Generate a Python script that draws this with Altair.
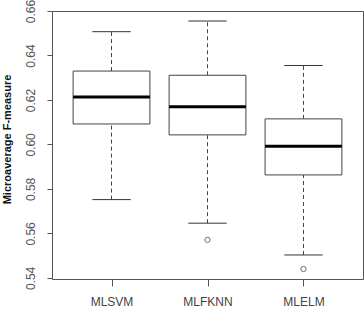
import altair as alt
import pandas as pd

categories = ["MLSVM", "MLFKNN", "MLELM"]
lower_whisker = [0.5752, 0.5646, 0.5503]
q1 = [0.6092, 0.6043, 0.5863]
median = [0.6213, 0.6169, 0.5992]
q3 = [0.6330, 0.6311, 0.6115]
upper_whisker = [0.6507, 0.6555, 0.6355]
outlier_cat = ["MLFKNN", "MLELM"]
outlier_val = [0.5571, 0.5440]

df = pd.DataFrame({
    "cat": categories,
    "pos": [i + 1 for i in range(len(categories))],
    "lo": lower_whisker, "q1": q1, "med": median, "q3": q3, "hi": upper_whisker,
})
dfo = pd.DataFrame({
    "cat": outlier_cat,
    "pos": [categories.index(c) + 1 for c in outlier_cat],
    "v": outlier_val,
})

label_expr = "datum.value == 1 ? 'MLSVM' : datum.value == 2 ? 'MLFKNN' : datum.value == 3 ? 'MLELM' : ''"

xs = alt.Scale(domain=[0.38, 3.62], nice=False, zero=False)
ys = alt.Scale(domain=[0.5395, 0.66], nice=False, zero=False)

xaxis = alt.Axis(values=[1, 2, 3], labelExpr=label_expr, title=None, grid=False,
                 domain=False, tickSize=7, tickColor="#555", labelFont="Liberation Sans",
                 labelFontSize=12, labelColor="#444", labelPadding=10)
yaxis = alt.Axis(values=[0.54, 0.56, 0.58, 0.60, 0.62, 0.64, 0.66], format=".2f",
                 title="Microaverage F-measure", grid=False, domain=False, tickSize=5,
                 tickColor="#555", labelAngle=270, labelAlign="center", labelBaseline="bottom",
                 labelFont="Liberation Sans", labelFontSize=12, labelColor="#555", labelPadding=10,
                 titleFont="Liberation Sans", titleFontSize=11, titleFontWeight="bold",
                 titleColor="#111", titleX=-45, titleY=128, titleAngle=270, titleBaseline="middle")

base = alt.Chart(df).transform_calculate(
    xl="datum.pos - 0.4", xr="datum.pos + 0.4",
    cl="datum.pos - 0.2", cr="datum.pos + 0.2")

whisk_up = base.mark_rule(color="#444", strokeDash=[4, 3], strokeWidth=1).encode(
    x=alt.X("pos:Q", scale=xs, axis=xaxis), y=alt.Y("q3:Q", scale=ys, axis=yaxis), y2="hi:Q")
whisk_lo = base.mark_rule(color="#444", strokeDash=[4, 3], strokeWidth=1).encode(
    x=alt.X("pos:Q", scale=xs), y=alt.Y("lo:Q", scale=ys), y2="q1:Q")
cap_hi = base.mark_rule(color="#333", strokeWidth=1).encode(
    x=alt.X("cl:Q", scale=xs), x2="cr:Q", y=alt.Y("hi:Q", scale=ys))
cap_lo = base.mark_rule(color="#333", strokeWidth=1).encode(
    x=alt.X("cl:Q", scale=xs), x2="cr:Q", y=alt.Y("lo:Q", scale=ys))
box = base.mark_rect(fill="white", stroke="#444", strokeWidth=1).encode(
    x=alt.X("xl:Q", scale=xs), x2="xr:Q", y=alt.Y("q1:Q", scale=ys), y2="q3:Q")
med = base.mark_rule(color="black", strokeWidth=3).encode(
    x=alt.X("xl:Q", scale=xs), x2="xr:Q", y=alt.Y("med:Q", scale=ys))
outl = alt.Chart(dfo).mark_point(shape="circle", filled=False, color="#333", size=28,
                                 strokeWidth=1).encode(
    x=alt.X("pos:Q", scale=xs), y=alt.Y("v:Q", scale=ys))

chart = alt.layer(whisk_up, whisk_lo, cap_hi, cap_lo, box, med, outl).properties(
    width=311, height=268,
    autosize=alt.AutoSizeParams(type="none"),
    padding={"left": 52, "top": 11, "right": 1, "bottom": 32},
    background="white",
).configure_view(stroke="#555", strokeWidth=1)

chart.save("out.html", embed_options={"renderer": "svg", "actions": False})
